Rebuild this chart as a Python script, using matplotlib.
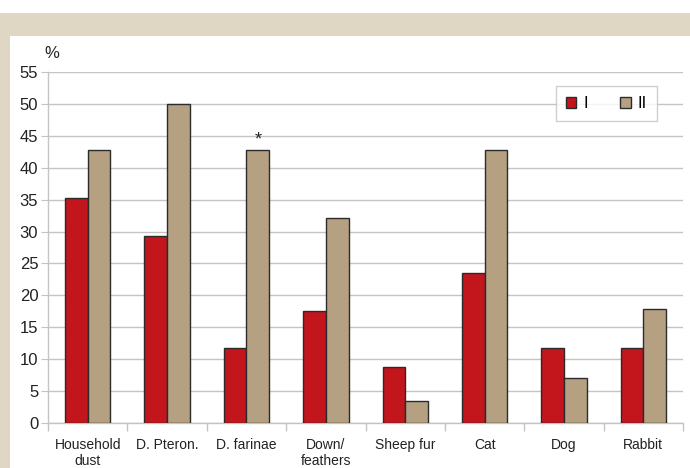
import matplotlib
matplotlib.use("Agg")
import matplotlib.pyplot as plt
from matplotlib.patches import Rectangle
import numpy as np

plt.rcParams['font.family'] = ['Liberation Sans', 'DejaVu Sans']

categories = ["Household\ndust", "D. Pteron.", "D. farinae", "Down/\nfeathers",
              "Sheep fur", "Cat", "Dog", "Rabbit"]
group_I = [35.2, 29.3, 11.7, 17.5, 8.7, 23.5, 11.7, 11.7]
group_II = [42.8, 50.0, 42.8, 32.1, 3.5, 42.8, 7.1, 17.8]
series_names = ["I", "II"]
star_index = 2  # significant difference marker

red = "#c3151c"
tan = "#b5a081"
edge = "#2b2b2b"
beige = "#dfd6c4"
grid_c = "#c4c4c4"

fig = plt.figure(figsize=(6.9, 4.68), dpi=100)

# beige frame
fig.patches.append(Rectangle((0, 0.924), 1, 0.048, transform=fig.transFigure,
                             facecolor=beige, edgecolor='none', zorder=0))
fig.patches.append(Rectangle((0, 0), 0.0145, 0.924, transform=fig.transFigure,
                             facecolor=beige, edgecolor='none', zorder=0))

ax = fig.add_axes([0.0696, 0.0962, 0.9203, 0.7500])

x = np.arange(len(categories))
w = 0.286
ax.bar(x - w / 2, group_I, w, color=red, edgecolor=edge, linewidth=1.0,
       label=series_names[0], zorder=3)
ax.bar(x + w / 2, group_II, w, color=tan, edgecolor=edge, linewidth=1.0,
       label=series_names[1], zorder=3)

ax.text(x[star_index] + w / 2, group_II[star_index] + 0.2, "*", ha='center',
        va='bottom', fontsize=13, color='#222222')

ax.set_xlim(-0.5, len(categories) - 0.5)
ax.set_ylim(0, 55)
ax.set_yticks(np.arange(0, 56, 5))
ax.tick_params(axis='y', labelsize=12, length=5, color=grid_c, pad=2,
               labelcolor='#222222')
ax.set_xticks(x)
ax.set_xticklabels(categories, fontsize=10, color='#222222')
ax.set_xticks(np.arange(-0.5, len(categories), 1), minor=True)
ax.tick_params(axis='x', which='major', length=0, pad=11)
ax.tick_params(axis='x', which='minor', length=6, color=grid_c, width=1)

ax.yaxis.grid(True, color=grid_c, linewidth=1.0, zorder=0)
ax.set_axisbelow(True)
for s in ['top', 'right']:
    ax.spines[s].set_visible(False)
for s in ['left', 'bottom']:
    ax.spines[s].set_color(grid_c)
    ax.spines[s].set_linewidth(1.0)

fig.text(0.064, 0.875, "%", fontsize=12, color='#222222')

leg = ax.legend(loc='upper right', bbox_to_anchor=(0.959, 0.960), ncol=2,
                fontsize=12, frameon=True, fancybox=False, handlelength=0.65,
                handleheight=0.65, handletextpad=0.4, columnspacing=1.95,
                borderpad=0.6, borderaxespad=0)
leg.get_frame().set_edgecolor(grid_c)
leg.get_frame().set_linewidth(1.0)

fig.savefig("out.png", dpi=100)
